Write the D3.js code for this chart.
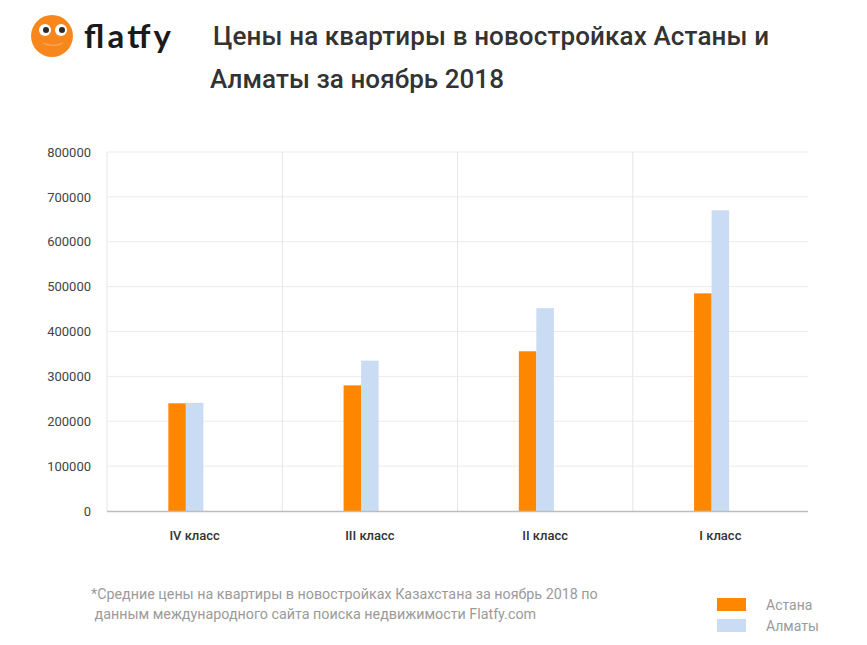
<!DOCTYPE html>
<html>
<head>
<meta charset="utf-8">
<script src="https://cdn.jsdelivr.net/npm/d3@7"></script>
<style>
  body { margin: 0; background: #fff; }
  svg { display: block; font-family: Roboto, "Noto Sans", sans-serif; }
</style>
</head>
<body>
<div id="chart"></div>
<script>
var categories = ["IV класс", "III класс", "II класс", "I класс"];
var seriesNames = ["Астана", "Алматы"];
var astana = [240000, 280000, 356000, 485000];
var almaty = [241000, 335000, 452000, 670000];
var yTicks = [0, 100000, 200000, 300000, 400000, 500000, 600000, 700000, 800000];
var footnote = [
  "*Средние цены на квартиры в новостройках Казахстана за ноябрь 2018 по",
  " данным международного сайта поиска недвижимости Flatfy.com"
];

var colors = ["#ff8700", "#cadcf3"];
var width = 867, height = 645;
var margin = {top: 152, right: 59, bottom: 134, left: 107};
var w = width - margin.left - margin.right;
var h = height - margin.top - margin.bottom;

var svg = d3.select("#chart")
  .append("svg")
  .attr("width", width)
  .attr("height", height);

// logo
var logo = svg.append("g").attr("transform", "translate(52,36)");
logo.append("circle").attr("r", 21).attr("fill", "#f7861c");
logo.append("circle").attr("cx", -7).attr("cy", -6).attr("r", 6).attr("fill", "#fff");
logo.append("circle").attr("cx", 9).attr("cy", -6).attr("r", 6).attr("fill", "#fff");
logo.append("circle").attr("cx", -6).attr("cy", -6).attr("r", 3).attr("fill", "#2a2a2a");
logo.append("circle").attr("cx", 10).attr("cy", -6).attr("r", 3).attr("fill", "#2a2a2a");
logo.append("path")
  .attr("d", "M-9,7 Q1,12 11,7")
  .attr("fill", "none")
  .attr("stroke", "#f9a24f")
  .attr("stroke-width", 1.5);
svg.append("text")
  .attr("x", 84)
  .attr("y", 48)
  .attr("textLength", 87)
  .style("font-family", "Lato, Roboto, sans-serif")
  .style("font-size", "33px")
  .style("font-weight", 700)
  .style("fill", "#1a1a1a")
  .text("flatfy");

// title
svg.append("text")
  .attr("x", 213)
  .attr("y", 45)
  .attr("textLength", 556)
  .style("font-size", "26px")
  .style("font-weight", 500)
  .style("fill", "#333")
  .text("Цены на квартиры в новостройках Астаны и");
svg.append("text")
  .attr("x", 210)
  .attr("y", 88)
  .attr("textLength", 294)
  .style("font-size", "26px")
  .style("font-weight", 500)
  .style("fill", "#333")
  .text("Алматы за ноябрь 2018");

var g = svg.append("g")
  .attr("transform", "translate(" + margin.left + "," + margin.top + ")");

var x0 = d3.scaleBand().domain(categories).range([0, w]);
// the source chart reserves three slots per group, only two are filled
var slots = seriesNames.concat([""]);
var groupW = x0.bandwidth() * 0.3;
var x1 = d3.scaleBand().domain(slots).range([-groupW / 2, groupW / 2]);
var y = d3.scaleLinear().domain([0, 800000]).range([h, 0]);

// horizontal grid
g.append("g")
  .selectAll("line")
  .data(yTicks.slice(1))
  .enter()
  .append("line")
  .attr("x1", 0)
  .attr("x2", w)
  .attr("y1", function (d) { return y(d); })
  .attr("y2", function (d) { return y(d); })
  .attr("stroke", "#ebebeb")
  .attr("stroke-width", 1);

// vertical band dividers
g.append("g")
  .selectAll("line")
  .data(categories)
  .enter()
  .append("line")
  .attr("x1", function (d) { return x0(d); })
  .attr("x2", function (d) { return x0(d); })
  .attr("y1", 0)
  .attr("y2", h)
  .attr("stroke", "#e6e6e6")
  .attr("stroke-width", 1);

// y axis
var yAxis = d3.axisLeft(y).tickValues(yTicks).tickSize(0).tickPadding(16)
  .tickFormat(d3.format("d"));
var ya = g.append("g").call(yAxis);
ya.select(".domain").remove();
ya.selectAll("text")
  .style("font-size", "13px")
  .style("font-family", "Roboto, sans-serif")
  .style("fill", "#444");

// bars
var rows = categories.map(function (c, i) {
  return {cat: c, values: [astana[i], almaty[i]]};
});
var groups = g.selectAll("g.grp")
  .data(rows)
  .enter()
  .append("g")
  .attr("class", "grp")
  .attr("transform", function (d) {
    return "translate(" + (x0(d.cat) + x0.bandwidth() / 2) + ",0)";
  });
groups.selectAll("rect")
  .data(function (d) {
    return d.values.map(function (v, i) { return {name: seriesNames[i], value: v, i: i}; });
  })
  .enter()
  .append("rect")
  .attr("x", function (d) { return x1(d.name); })
  .attr("width", x1.bandwidth())
  .attr("y", function (d) { return y(d.value); })
  .attr("height", function (d) { return h - y(d.value); })
  .attr("fill", function (d) { return colors[d.i]; });

// baseline
g.append("line")
  .attr("x1", 0)
  .attr("x2", w)
  .attr("y1", h + 0.5)
  .attr("y2", h + 0.5)
  .attr("stroke", "#bdbdbd")
  .attr("stroke-width", 1.5);

// x labels
var xAxis = d3.axisBottom(x0).tickSize(0).tickPadding(20);
var xa = g.append("g").attr("transform", "translate(0," + h + ")").call(xAxis);
xa.select(".domain").remove();
xa.selectAll("text")
  .style("font-size", "13px")
  .style("font-weight", 500)
  .style("font-family", "Roboto, sans-serif")
  .style("fill", "#333");

// footnote
svg.append("g")
  .selectAll("text")
  .data(footnote)
  .enter()
  .append("text")
  .attr("x", 91)
  .attr("y", function (d, i) { return 599 + i * 20; })
  .attr("xml:space", "preserve")
  .style("white-space", "pre")
  .style("font-size", "14.3px")
  .style("fill", "#9a9a9a")
  .text(function (d) { return d; });

// legend
var legend = svg.append("g")
  .selectAll("g")
  .data(seriesNames)
  .enter()
  .append("g")
  .attr("transform", function (d, i) { return "translate(717," + (598 + i * 21) + ")"; });
legend.append("rect")
  .attr("width", 29)
  .attr("height", 13)
  .attr("fill", function (d, i) { return colors[i]; });
legend.append("text")
  .attr("x", 49)
  .attr("y", 12)
  .style("font-size", "14px")
  .style("fill", "#9a9a9a")
  .text(function (d) { return d; });
</script>
</body>
</html>
